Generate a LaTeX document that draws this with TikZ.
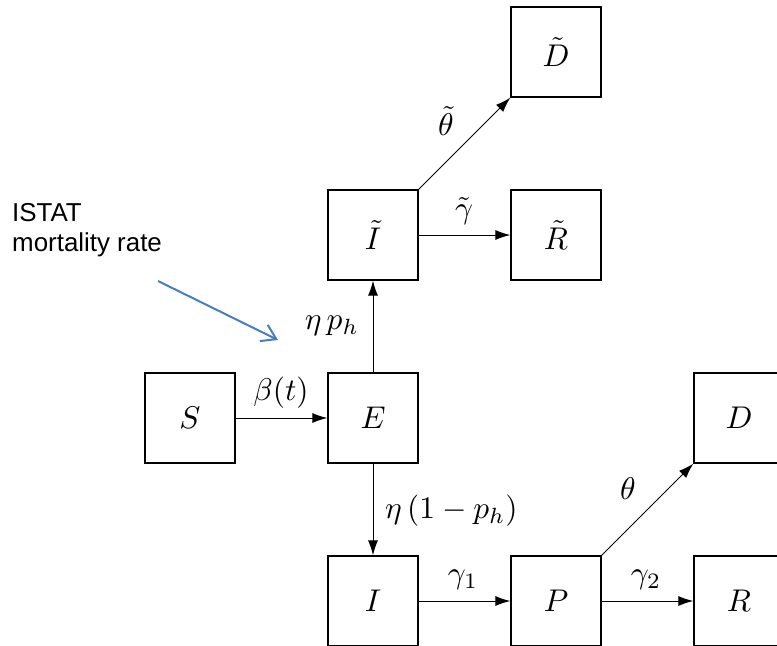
\documentclass[tikz,border=0pt]{standalone}
\usepackage{graphicx}
\usepackage{fontspec}
\newfontfamily\arialf{Liberation Sans}
\usetikzlibrary{arrows.meta}
\newcommand\mth[1]{\scalebox{3.15}{$#1$}}
\begin{document}
\begin{tikzpicture}[x=1bp,y=-1bp,
  box/.style={draw,line width=1.3bp,minimum width=90bp,minimum height=90bp,inner sep=0pt},
  flow/.style={-{Latex[length=15bp,width=10bp]},line width=1bp},
  lab/.style={inner sep=0pt}]
\useasboundingbox (0,0) rectangle (777,646);
\node[box] (Dt) at (556,52) {\mth{\tilde D}};
\node[box] (It) at (373,235) {\mth{\tilde I}};
\node[box] (Rt) at (556,235) {\mth{\tilde R}};
\node[box] (S) at (190,418) {\mth{S}};
\node[box] (E) at (373,418) {\mth{E}};
\node[box] (D) at (739,418) {\mth{D}};
\node[box] (I) at (373,601) {\mth{I}};
\node[box] (P) at (556,601) {\mth{P}};
\node[box] (R) at (739,601) {\mth{R}};
\draw[flow] (It.north east) -- (Dt.south west);
\draw[flow] (It) -- (Rt);
\draw[flow] (S) -- (E);
\draw[flow] (E) -- (It);
\draw[flow] (E) -- (I);
\draw[flow] (I) -- (P);
\draw[flow] (P) -- (R);
\draw[flow] (P.north east) -- (D.south west);
\node[lab] (lth) at (446,121) {\mth{\tilde\theta}};
\node[lab] (lgt) at (464,211) {\mth{\tilde\gamma}};
\node[lab] (lb) at (281,393) {\mth{\beta(t)}};
\node[lab,anchor=east] (lep) at (359,326) {\mth{\eta\,p_h}};
\node[lab,anchor=west] (le1) at (385,511) {\mth{\eta\,(1-p_h)}};
\node[lab] (lg1) at (463,580) {\mth{\gamma_1}};
\node[lab] (lthe) at (628,489) {\mth{\theta}};
\node[lab] (lg2) at (646,580) {\mth{\gamma_2}};
\node[font=\arialf\fontsize{26}{30}\selectfont,align=left,anchor=north west,inner sep=0pt] (ist) at (12,203) {ISTAT\\mortality rate};
\coordinate (a0) at (158,281);
\coordinate (a1) at (278,340);
\draw[-{Straight Barb[length=14bp,width=18bp]},draw={rgb,255:red,74;green,126;blue,187},line width=2bp] (a0) -- (a1);
\end{tikzpicture}
\end{document}
